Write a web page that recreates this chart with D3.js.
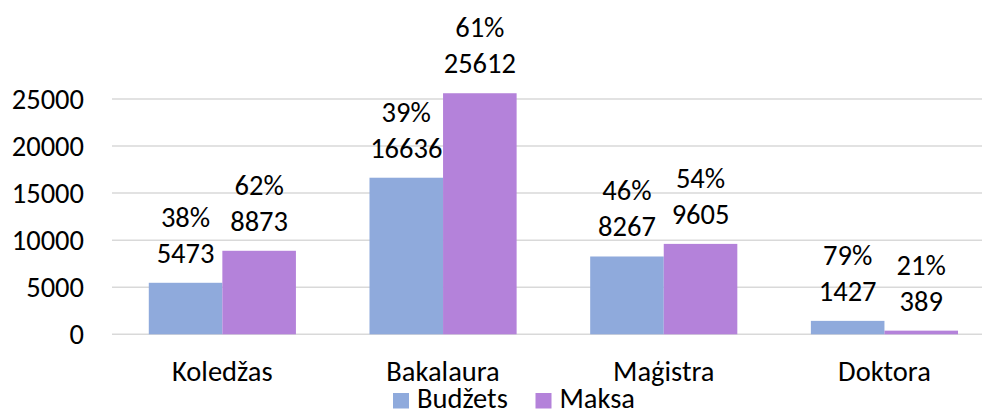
<!DOCTYPE html>
<html><head><meta charset="utf-8">
<script src="https://cdn.jsdelivr.net/npm/d3@7"></script>
<style>
body{margin:0;background:#fff;}
svg{display:block;font-family:Carlito, Calibri, "Open Sans", sans-serif;}
</style></head>
<body><svg id="c" width="982" height="410"></svg>
<script>
const categories = ["Koledžas","Bakalaura","Maģistra","Doktora"];
const seriesNames = ["Budžets","Maksa"];
const budzets = [5473,16636,8267,1427];
const maksa = [8873,25612,9605,389];
const budzetsPct = ["38%","39%","46%","79%"];
const maksaPct = ["62%","61%","54%","21%"];
const yTicks = [0,5000,10000,15000,20000,25000];
const colors = ["#8FAADC","#B482DA"];

const FONT = 'Carlito, Calibri, "Open Sans", sans-serif';
const FS = 28.5;
const svg = d3.select("#c");
const left = 112, right = 994.8;
const x = d3.scaleBand().domain(categories).range([left,right]).paddingInner(0).paddingOuter(0);
const x1 = d3.scaleBand().domain(seriesNames).range([0,x.bandwidth()]).paddingOuter(0.5).paddingInner(0);
const y = d3.scaleLinear().domain([0,25000]).range([334.3,99]);

// gridlines
svg.append("g").selectAll("line").data(yTicks).join("line")
  .attr("x1",left).attr("x2",982).attr("y1",d=>y(d)).attr("y2",d=>y(d))
  .attr("stroke","#d9d9d9").attr("stroke-width",1.5);

// y axis labels
const yAxis = d3.axisLeft(y).tickValues(yTicks).tickSize(0).tickPadding(0).tickFormat(d3.format("d"));
const ya = svg.append("g").attr("transform","translate(84,0)").call(yAxis);
ya.select(".domain").remove();
ya.selectAll("text").attr("font-size",FS).attr("fill","#000").attr("font-family",FONT).attr("dy","0.32em");

// x axis labels
const xAxis = d3.axisBottom(x).tickSize(0).tickPadding(0);
const xa = svg.append("g").attr("transform","translate(0,381)").call(xAxis);
xa.select(".domain").remove();
xa.selectAll("text").attr("font-size",FS).attr("fill","#000").attr("font-family",FONT).attr("dy","0");

const rows = categories.map((c,i)=>({c, vals:[
  {s:seriesNames[0], v:budzets[i], p:budzetsPct[i]},
  {s:seriesNames[1], v:maksa[i], p:maksaPct[i]}]}));

const g = svg.append("g").selectAll("g").data(rows).join("g")
  .attr("transform",d=>`translate(${x(d.c)},0)`);
g.selectAll("rect").data(d=>d.vals).join("rect")
  .attr("x",d=>x1(d.s)).attr("width",x1.bandwidth())
  .attr("y",d=>y(d.v)).attr("height",d=>y(0)-y(d.v))
  .attr("fill",(d,i)=>colors[i]);
const lab = g.selectAll("text.v").data(d=>d.vals).join("text").attr("class","v")
  .attr("text-anchor","middle").attr("font-size",FS).attr("fill","#000");
lab.append("tspan").attr("x",d=>x1(d.s)+x1.bandwidth()/2).attr("y",d=>y(d.v)-20-36).text(d=>d.p);
lab.append("tspan").attr("x",d=>x1(d.s)+x1.bandwidth()/2).attr("y",d=>y(d.v)-20).text(d=>d.v);

// legend
const leg = svg.append("g");
const lx = [393,535.5];
seriesNames.forEach((s,i)=>{
  leg.append("rect").attr("x",lx[i]).attr("y",393).attr("width",16).attr("height",15.5).attr("fill",colors[i]);
  leg.append("text").attr("x",lx[i]+24).attr("y",408).attr("font-size",FS).attr("fill","#000").text(s);
});
</script></body></html>
